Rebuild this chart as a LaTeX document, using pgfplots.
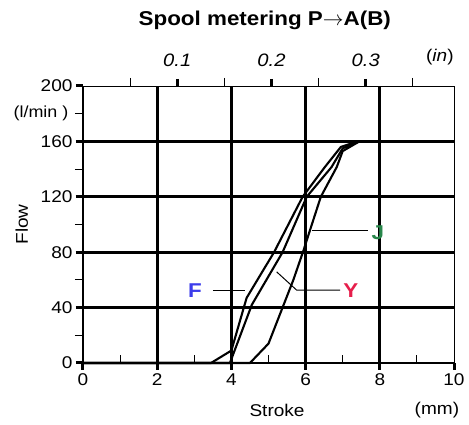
\documentclass[border=0pt]{standalone}
\usepackage{fontspec}
\setmainfont{Liberation Sans}[FakeStretch=1.12]
\usepackage{pgfplots}
\pgfplotsset{compat=1.18}
\definecolor{fblue}{RGB}{60,60,235}
\definecolor{yred}{RGB}{230,30,75}
\definecolor{jgreen}{RGB}{40,135,75}
\begin{document}
\begin{tikzpicture}
\path[use as bounding box] (-83pt,-62pt) rectangle (386pt,363pt);
\begin{axis}[
  at={(0,0)}, anchor=south west,
  scale only axis, width=371pt, height=277pt,
  xmin=0, xmax=10, ymin=0, ymax=200,
  axis x line*=bottom, axis y line*=left,
  x axis line style={line width=2.4pt},
  y axis line style={line width=1.8pt},
  xtick={0,2,...,10}, minor xtick={1,3,...,9},
  ytick={0,40,...,200}, minor ytick={20,60,...,180},
  tick align=outside,
  major tick length=7pt, minor tick length=8pt,
  major tick style={line width=3pt, black},
  minor tick style={line width=1pt, black},
  minor x tick style={yshift=8pt},
  extra x ticks={2,4,6,8}, extra x tick labels={},
  extra y ticks={40,80,120,160}, extra y tick labels={},
  extra x tick style={grid=major, major grid style={line width=2.8pt, black, solid}},
  extra y tick style={grid=major, major grid style={line width=2.8pt, black, solid}},
  tick label style={font=\fontsize{17}{17}\selectfont},
  /pgf/number format/assume math mode=true,
  clip=false,
]
\addplot[black, line width=2.1pt] coordinates {(0,0)(3.45,0)(4.0,9)(4.41,47)(5.15,80)(5.92,120)(6.52,141.5)(6.95,156)(7.4,160)(10,160)};
\addplot[black, line width=2.1pt] coordinates {(0,0)(3.96,0)(4.55,42)(5.38,80)(6.03,120)(6.70,141.5)(7.0,155)(7.45,160)(10,160)};
\addplot[black, line width=2.1pt] coordinates {(0,0)(4.5,0)(5.0,14)(5.67,60)(5.94,81)(6.12,96)(6.41,120)(6.84,141.5)(7.0,153)(7.45,160)(10,160)};
% leaders
\draw[black, line width=1pt] (axis cs:3.5,52.6) -- (axis cs:4.37,52.6);
\draw[black, line width=1pt] (axis cs:6.93,52.6) -- (axis cs:5.76,52.6) -- (axis cs:5.22,65.8);
\draw[black, line width=1pt] (axis cs:7.68,95.9) -- (axis cs:6.16,95.9);
\node[font=\fontsize{20}{20}\selectfont\bfseries, text=fblue] at (axis cs:3.02,52.6) {F};
\node[font=\fontsize{20}{20}\selectfont\bfseries, text=yred] at (axis cs:7.22,52.6) {Y};
\node[font=\fontsize{20}{20}\selectfont\bfseries, text=jgreen] at (axis cs:7.95,94.4) {J};
% labels
\node[font=\fontsize{16}{16}\selectfont, anchor=east] at (axis cs:-0.30,180) {(l/min )};
\node[rotate=90, font=\fontsize{17}{17}\selectfont] at (axis description cs:-0.165,0.50) {Flow};
\node[font=\fontsize{17}{17}\selectfont] at (axis description cs:0.523,-0.17) {Stroke};
\node[font=\fontsize{17}{17}\selectfont] at (axis description cs:0.954,-0.17) {(mm)};
\node[font=\fontsize{17}{17}\selectfont] at (axis description cs:0.962,1.105) {(\textit{in})};
\node[font=\fontsize{20}{20}\selectfont\bfseries] at (axis description cs:0.49,1.238) {Spool metering P$\rightarrow$A(B)};
\end{axis}
\begin{axis}[
  at={(0,0)}, anchor=south west,
  scale only axis, width=371pt, height=277pt,
  xmin=0, xmax=0.393701, ymin=0, ymax=200,
  axis x line*=top, axis y line*=right,
  axis line style={line width=0.9pt},
  ytick=\empty,
  xtick={0.1,0.2,0.3}, xticklabels={\textit{0.1},\textit{0.2},\textit{0.3}},
  minor xtick={0.05,0.15,0.25,0.35},
  tick align=outside,
  major tick length=7pt, minor tick length=8pt,
  major tick style={line width=3pt, black},
  minor tick style={line width=1pt, black},
  tick label style={font=\fontsize{18}{18}\selectfont},
  xticklabel style={yshift=9pt},
]
\end{axis}
\end{tikzpicture}
\end{document}
